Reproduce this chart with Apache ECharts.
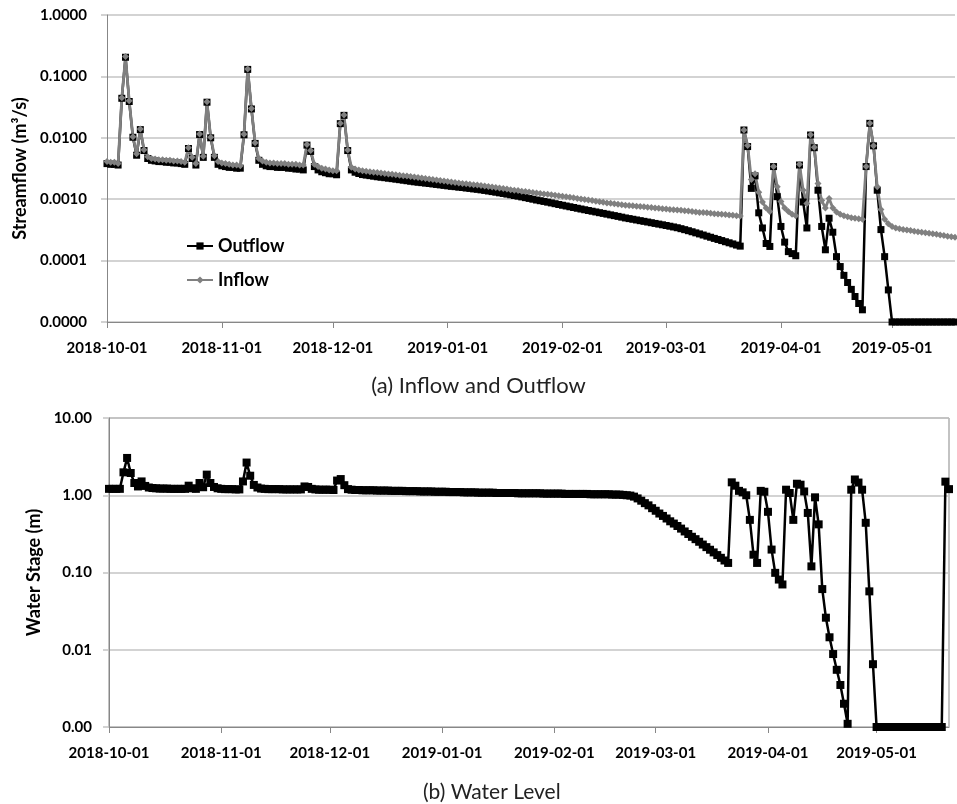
<!DOCTYPE html>
<html>
<head>
<meta charset="utf-8">
<script src="https://cdn.jsdelivr.net/npm/echarts@6/dist/echarts.min.js"></script>
<style>
html,body{margin:0;padding:0;background:#fff;}
#chart{width:957px;height:804px;}
</style>
</head>
<body>
<div id="chart"></div>
<script>
// ---------------- DATA ----------------
const START_DATE = '2018-10-01';
const TOP_DAYS = 230;      // daily points shown in panel (a)
const BOTTOM_DAYS = 233;   // daily points shown in panel (b)
const monthTicks = ['2018-10-01','2018-11-01','2018-12-01','2019-01-01','2019-02-01','2019-03-01','2019-04-01','2019-05-01'];

// Outflow, m3/s, daily from 2018-10-01 (0 = no outflow)
const outflow = [
 0.0038,0.0037,0.0037,0.0036,0.044,0.205,0.039,0.0102,0.0052,0.0136,
 0.0062,0.0046,0.0043,0.0042,0.0041,0.0041,0.0040,0.0040,0.0039,0.0039,
 0.0038,0.0037,0.0067,0.0046,0.0036,0.0113,0.0048,0.038,0.0100,0.0048,
 0.0037,0.0035,0.0034,0.0033,0.0033,0.0032,0.0032,0.0112,0.130,0.0295,
 0.0081,0.0043,0.0037,0.0035,0.0034,0.0034,0.0033,0.0033,0.0033,0.0032,
 0.0032,0.0031,0.0031,0.0030,0.0076,0.0060,0.0034,0.0030,0.0028,0.0027,
 0.0026,0.0026,0.0025,0.0170,0.0232,0.0062,0.00300,0.00275,0.00262,0.00252,
 0.00247,0.00242,0.00237,0.00232,0.00228,0.00224,0.00220,0.00216,0.00212,0.00208,
 0.00204,0.00200,0.00196,0.00192,0.00189,0.00186,0.00183,0.00180,0.00177,0.00174,
 0.00171,0.00168,0.00165,0.00162,0.00160,0.00157,0.00155,0.00152,0.00150,0.00147,
 0.00145,0.00142,0.00139,0.00136,0.00133,0.00130,0.00127,0.00124,0.00121,0.00118,
 0.00115,0.00112,0.00109,0.00106,0.00103,0.00100,0.00097,0.000945,0.000920,0.000895,
 0.000870,0.000845,0.000820,0.000797,0.000775,0.000753,0.000732,0.000712,0.000692,0.000673,
 0.000655,0.000637,0.000620,0.000603,0.000587,0.000571,0.000555,0.000540,0.000525,0.000510,
 0.000495,0.000483,0.000471,0.000459,0.000447,0.000436,0.000425,0.000414,0.000403,0.000393,
 0.000383,0.000373,0.000363,0.000353,0.000343,0.000331,0.000319,0.000307,0.000295,0.000283,
 0.000272,0.000261,0.000250,0.000240,0.000230,0.000221,0.000212,0.000203,0.000195,0.000187,
 0.000179,0.000172,0.0134,0.0072,0.0015,0.0024,0.00060,0.00034,0.00019,0.00017,
 0.0034,0.0011,0.00036,0.00020,0.00014,0.00013,0.00012,0.0036,0.00090,0.00034,
 0.0111,0.0069,0.0014,0.00036,0.00015,0.00049,0.00029,0.000116,0.000080,0.0000575,
 0.000044,0.000034,0.000026,0.000020,0.0000158,0.0034,0.0172,0.0074,0.0014,0.00032,
 0.000116,0.0000333,0,0,0,0,0,0,0,0,
 0,0,0,0,0,0,0,0,0,0
];

// Inflow, m3/s, daily from 2018-10-01
const inflow = [
 0.0041,0.0040,0.0040,0.0038,0.045,0.21,0.040,0.0104,0.0055,0.0139,
 0.0064,0.0049,0.0046,0.0045,0.0044,0.0044,0.0043,0.0043,0.0042,0.0042,
 0.0041,0.0040,0.0069,0.0048,0.0038,0.0115,0.0050,0.0385,0.0102,0.0051,
 0.0041,0.0039,0.0038,0.0037,0.0036,0.0036,0.0035,0.0114,0.132,0.030,
 0.0083,0.0046,0.0042,0.0040,0.0039,0.0039,0.0038,0.0038,0.0038,0.0037,
 0.0037,0.0037,0.0036,0.0036,0.0078,0.0062,0.0037,0.0034,0.0032,0.0031,
 0.0030,0.0029,0.0029,0.0172,0.0235,0.0063,0.00330,0.00310,0.00300,0.00292,
 0.00286,0.00281,0.00276,0.00271,0.00266,0.00262,0.00258,0.00254,0.00250,0.00246,
 0.00242,0.00238,0.00234,0.00230,0.00226,0.00222,0.00218,0.00214,0.00210,0.00206,
 0.00202,0.00198,0.00194,0.00190,0.00187,0.00184,0.00181,0.00178,0.00175,0.00172,
 0.00170,0.00167,0.00164,0.00161,0.00158,0.00155,0.00152,0.00149,0.00146,0.00143,
 0.00140,0.00138,0.00135,0.00133,0.00131,0.00128,0.00126,0.00124,0.00122,0.00120,
 0.00118,0.00116,0.00114,0.00112,0.00110,0.00108,0.00106,0.00103,0.00101,0.00099,
 0.00097,0.00095,0.00093,0.00091,0.00089,0.00087,0.00086,0.00084,0.00083,0.00081,
 0.00080,0.00079,0.00078,0.00077,0.00076,0.00075,0.00074,0.00073,0.00072,0.00071,
 0.00070,0.00069,0.00068,0.000675,0.00067,0.00066,0.00065,0.00064,0.00063,0.00062,
 0.00061,0.000605,0.00060,0.00059,0.00058,0.000575,0.00057,0.000562,0.000555,0.000548,
 0.00054,0.000533,0.0134,0.0075,0.0021,0.0026,0.0013,0.00090,0.00072,0.00063,
 0.0034,0.0016,0.00092,0.00072,0.00063,0.00057,0.00054,0.0037,0.0014,0.00085,
 0.0112,0.0070,0.0018,0.00095,0.00072,0.00103,0.00072,0.00062,0.00057,0.00054,
 0.00052,0.00050,0.00049,0.00048,0.00047,0.0034,0.0172,0.0074,0.0016,0.00068,
 0.00047,0.00040,0.00036,0.00034,0.00033,0.00032,0.000315,0.00031,0.000302,0.000295,
 0.00029,0.000284,0.00028,0.000274,0.000268,0.000262,0.000256,0.00025,0.000245,0.00024
];

// Water stage, m, daily from 2018-10-01 (0 = dry)
const stage = [
 1.21,1.21,1.21,1.21,1.98,3.04,1.94,1.44,1.30,1.51,
 1.32,1.26,1.24,1.23,1.22,1.22,1.22,1.21,1.21,1.21,
 1.21,1.21,1.33,1.23,1.21,1.44,1.27,1.85,1.44,1.28,
 1.23,1.21,1.20,1.20,1.20,1.19,1.19,1.51,2.65,1.79,
 1.36,1.26,1.22,1.21,1.20,1.20,1.20,1.20,1.19,1.19,
 1.19,1.19,1.19,1.19,1.30,1.28,1.21,1.19,1.18,1.18,
 1.18,1.18,1.17,1.55,1.62,1.35,1.20,1.18,1.17,1.17,
 1.16,1.16,1.16,1.16,1.15,1.15,1.15,1.15,1.14,1.14,
 1.14,1.14,1.13,1.13,1.13,1.13,1.12,1.12,1.12,1.12,
 1.11,1.11,1.11,1.11,1.10,1.10,1.10,1.10,1.09,1.09,
 1.09,1.09,1.08,1.08,1.08,1.08,1.08,1.07,1.07,1.07,
 1.07,1.07,1.07,1.06,1.06,1.06,1.06,1.06,1.06,1.06,
 1.05,1.05,1.05,1.05,1.05,1.05,1.04,1.04,1.04,1.04,
 1.04,1.04,1.04,1.03,1.03,1.03,1.03,1.03,1.03,1.02,
 1.02,1.02,1.01,1.00,0.99,0.96,0.91,0.85,0.79,0.74,
 0.68,0.63,0.58,0.54,0.50,0.46,0.43,0.40,0.37,0.34,
 0.315,0.29,0.27,0.25,0.23,0.213,0.197,0.182,0.168,0.155,
 0.143,0.133,1.47,1.33,1.14,1.09,1.00,0.48,0.17,0.133,
 1.14,1.11,0.61,0.198,0.099,0.081,0.070,1.18,1.07,0.48,
 1.41,1.37,1.12,0.59,0.12,0.94,0.42,0.061,0.026,0.0145,
 0.0088,0.0055,0.0035,0.0020,0.0011,1.18,1.60,1.46,1.18,0.44,
 0.057,0.0065,0,0,0,0,0,0,0,0,
 0,0,0,0,0,0,0,0,0,0,
 0,1.5,1.2
];

// Log-axis ranges (zero values are drawn on the axis floor, as in the original)
const FLOW_MIN = 0.00001, FLOW_MAX = 1;
const STAGE_MIN = 0.001, STAGE_MAX = 10;

// ---------------- CHART ----------------
function dayList(start, n) {
  const t0 = Date.parse(start + 'T00:00:00Z');
  const out = [];
  for (let i = 0; i < n; i++) out.push(new Date(t0 + i * 86400000).toISOString().slice(0, 10));
  return out;
}
const topDays = dayList(START_DATE, TOP_DAYS);
const bottomDays = dayList(START_DATE, BOTTOM_DAYS);
const isMonthTick = (idx, val) => monthTicks.indexOf(val) >= 0;
const floorAt = (arr, f) => arr.map(v => (v > 0 ? v : f));

const FONT = 'Lato';
const tickFont = { fontFamily: FONT, fontWeight: 'bold', fontSize: 15, color: '#000' };
const AXIS_COLOR = '#878787';
const GRID_COLOR = '#c4c4c4';

function xAxisCfg(gridIndex, data) {
  return {
    type: 'category', gridIndex, data, boundaryGap: false,
    axisLine: { show: true, lineStyle: { color: AXIS_COLOR, width: 1 } },
    axisTick: { show: true, interval: isMonthTick, length: 6, inside: false, lineStyle: { color: AXIS_COLOR } },
    axisLabel: Object.assign({ interval: isMonthTick, margin: 19, hideOverlap: false }, tickFont),
    splitLine: { show: false }
  };
}
function yAxisCfg(gridIndex, min, max, decimals, name, nameGap, margin) {
  return {
    type: 'log', logBase: 10, gridIndex, min, max,
    axisLine: { show: true, lineStyle: { color: AXIS_COLOR, width: 1 } },
    axisTick: { show: true, length: 6, lineStyle: { color: GRID_COLOR, width: 1.5 } },
    splitLine: { show: true, lineStyle: { color: GRID_COLOR, width: 1.5 } },
    axisLabel: Object.assign({ margin, formatter: v => Number(v).toFixed(decimals) }, tickFont),
    name, nameLocation: 'middle', nameGap, nameRotate: 90,
    nameTextStyle: { fontFamily: FONT, fontWeight: 'bold', fontSize: 18, color: '#000' }
  };
}

const chart = echarts.init(document.getElementById('chart'), null, { renderer: 'canvas' });
chart.setOption({
  animation: false,
  backgroundColor: '#fff',
  title: [
    { text: '(a) Inflow and Outflow', left: 'center', top: 370,
      textStyle: { fontFamily: FONT, fontWeight: 'normal', fontSize: 22, color: '#222' } },
    { text: '(b) Water Level', left: 418, top: 777,
      textStyle: { fontFamily: FONT, fontWeight: 'normal', fontSize: 21, color: '#222' } }
  ],
  legend: {
    data: ['Outflow', 'Inflow'], orient: 'vertical', left: 181, top: 232,
    itemWidth: 26, itemHeight: 9, itemGap: 16,
    textStyle: { fontFamily: FONT, fontWeight: 'bold', fontSize: 18, color: '#000' }
  },
  grid: [
    { left: 107, top: 15, right: 2, height: 307 },
    { left: 109, top: 418, right: 8, height: 309, show: true, borderColor: AXIS_COLOR, borderWidth: 1 }
  ],
  xAxis: [xAxisCfg(0, topDays), xAxisCfg(1, bottomDays)],
  yAxis: [
    yAxisCfg(0, FLOW_MIN, FLOW_MAX, 4, 'Streamflow (m³/s)', 78, 20),
    yAxisCfg(1, STAGE_MIN, STAGE_MAX, 2, 'Water Stage (m)', 60, 17)
  ],
  series: [
    { name: 'Outflow', type: 'line', xAxisIndex: 0, yAxisIndex: 0,
      data: floorAt(outflow, FLOW_MIN), showAllSymbol: true, symbol: 'rect', symbolSize: 7,
      itemStyle: { color: '#000' }, lineStyle: { color: '#000', width: 2.5 }, silent: true },
    { name: 'Inflow', type: 'line', xAxisIndex: 0, yAxisIndex: 0,
      data: floorAt(inflow, FLOW_MIN), showAllSymbol: true, symbol: 'diamond', symbolSize: 7,
      itemStyle: { color: '#808080' }, lineStyle: { color: '#808080', width: 2.8 }, silent: true },
    { name: 'Water Stage', type: 'line', xAxisIndex: 1, yAxisIndex: 1,
      data: floorAt(stage, STAGE_MIN), showAllSymbol: true, symbol: 'rect', symbolSize: 8,
      itemStyle: { color: '#000' }, lineStyle: { color: '#000', width: 2.5 }, silent: true }
  ]
});
</script>
</body>
</html>
